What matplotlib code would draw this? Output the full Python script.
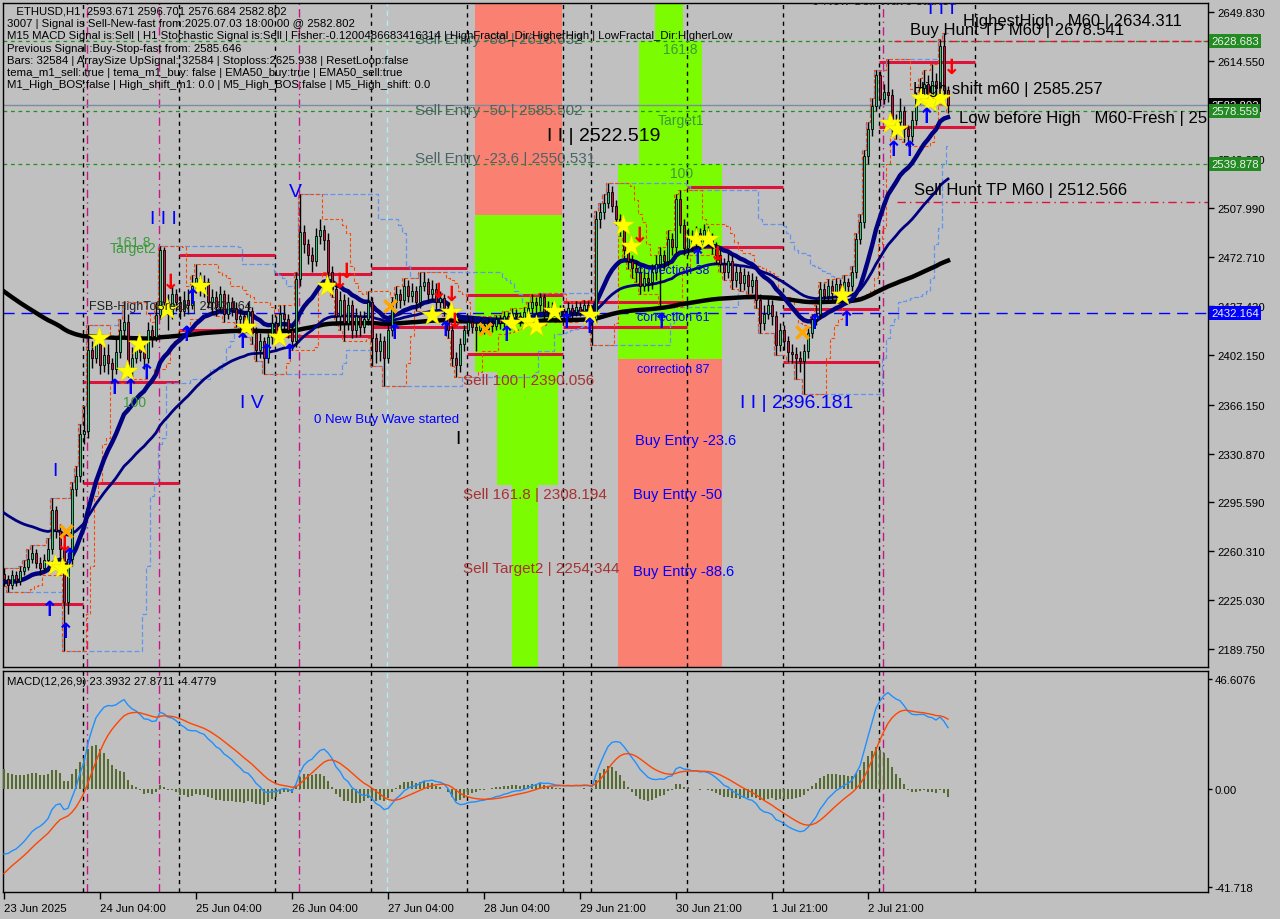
import matplotlib
matplotlib.use('Agg')
import matplotlib.pyplot as plt
import matplotlib.transforms as mtransforms
import numpy as np
import pandas as pd
from matplotlib.patches import Rectangle

plt.rcParams['font.family'] = ['Liberation Sans', 'DejaVu Sans']

# ---------------- data ----------------
closes = [2240, 2236, 2243, 2239, 2246, 2249, 2255, 2259, 2252, 2248,
          2254, 2262, 2290, 2275, 2262, 2224, 2255, 2305, 2315, 2345,
          2347, 2406, 2400, 2410, 2395, 2402, 2396, 2392, 2404, 2420,
          2426, 2392, 2400, 2410, 2404, 2400, 2420, 2415, 2431, 2478,
          2440, 2432, 2446, 2440, 2434, 2442, 2438, 2452, 2458, 2450,
          2455, 2440, 2444, 2437, 2446, 2432, 2440, 2436, 2428, 2430,
          2422, 2434, 2418, 2406, 2412, 2400, 2415, 2425, 2418, 2432,
          2428, 2420, 2412, 2457, 2491, 2482, 2474, 2470, 2488, 2492,
          2485, 2462, 2450, 2430, 2442, 2425, 2438, 2420, 2430, 2422,
          2428, 2440, 2414, 2405, 2412, 2400, 2420, 2440, 2446, 2442,
          2452, 2445, 2448, 2440, 2452, 2455, 2446, 2450, 2440, 2443,
          2436, 2420, 2400, 2395, 2410, 2420, 2426, 2422, 2420, 2424,
          2421, 2425, 2423, 2428, 2425, 2430, 2428, 2432, 2430, 2427,
          2433, 2436, 2440, 2438, 2444, 2433, 2437, 2432, 2430, 2434,
          2432, 2436, 2433, 2437, 2434, 2438, 2435, 2428, 2500, 2505,
          2512, 2520, 2510, 2500, 2495, 2478, 2470, 2465, 2462, 2452,
          2458, 2455, 2462, 2468, 2474, 2470, 2486, 2480, 2515, 2496,
          2479, 2488, 2482, 2490, 2484, 2492, 2486, 2480, 2474, 2468,
          2462, 2470, 2456, 2462, 2454, 2460, 2452, 2456, 2442, 2425,
          2432, 2438, 2430, 2409, 2420, 2412, 2404, 2403, 2400, 2398,
          2405, 2418, 2428, 2432, 2450, 2445, 2452, 2447, 2453, 2449,
          2455, 2452, 2462, 2486, 2498, 2546, 2565, 2582, 2604, 2587,
          2592, 2590, 2565, 2570, 2578, 2565, 2560, 2572, 2587, 2595,
          2598, 2590, 2600, 2595, 2625, 2593.671, 2582.802]
highs = [2248, 2243, 2247, 2246, 2250, 2254, 2262, 2265, 2262, 2256,
         2258, 2270, 2299, 2293, 2280, 2266, 2260, 2310, 2322, 2352,
         2365, 2424, 2412, 2416, 2414, 2408, 2410, 2400, 2416, 2428,
         2440, 2432, 2408, 2416, 2414, 2410, 2426, 2424, 2440, 2481,
         2480, 2446, 2452, 2450, 2445, 2448, 2450, 2460, 2468, 2462,
         2460, 2458, 2450, 2448, 2452, 2449, 2446, 2444, 2440, 2436,
         2434, 2440, 2437, 2422, 2418, 2415, 2420, 2432, 2430, 2438,
         2438, 2432, 2424, 2462, 2518, 2496, 2486, 2480, 2494, 2500,
         2496, 2490, 2466, 2454, 2448, 2446, 2444, 2442, 2436, 2434,
         2434, 2448, 2444, 2418, 2418, 2416, 2424, 2444, 2452, 2450,
         2458, 2456, 2454, 2452, 2462, 2462, 2458, 2456, 2454, 2448,
         2446, 2440, 2424, 2404, 2414, 2424, 2430, 2430, 2426, 2428,
         2427, 2429, 2428, 2431, 2431, 2434, 2433, 2436, 2435, 2433,
         2437, 2440, 2446, 2444, 2447, 2446, 2441, 2440, 2436, 2438,
         2437, 2440, 2439, 2441, 2440, 2442, 2441, 2438, 2506, 2512,
         2518, 2526, 2524, 2514, 2504, 2498, 2482, 2474, 2470, 2466,
         2464, 2462, 2468, 2474, 2480, 2478, 2492, 2490, 2518, 2521,
         2500, 2494, 2492, 2495, 2494, 2497, 2495, 2490, 2484, 2478,
         2472, 2476, 2474, 2467, 2466, 2465, 2463, 2461, 2459, 2446,
         2438, 2444, 2442, 2434, 2425, 2424, 2416, 2410, 2408, 2405,
         2410, 2422, 2432, 2438, 2455, 2454, 2457, 2456, 2458, 2457,
         2460, 2458, 2466, 2490, 2504, 2550, 2570, 2588, 2608, 2607,
         2598, 2616, 2594, 2576, 2588, 2582, 2568, 2578, 2592, 2602,
         2608, 2604, 2612, 2606, 2630, 2634.311, 2596.701]
lows = [2235, 2231, 2233, 2235, 2236, 2243, 2247, 2252, 2248, 2243,
        2245, 2251, 2258, 2270, 2255, 2188, 2215, 2250, 2300, 2310,
        2338, 2342, 2393, 2396, 2388, 2390, 2388, 2382, 2388, 2400,
        2415, 2386, 2385, 2396, 2398, 2392, 2396, 2408, 2412, 2428,
        2436, 2420, 2428, 2434, 2428, 2430, 2432, 2435, 2448, 2445,
        2444, 2436, 2432, 2430, 2433, 2426, 2428, 2430, 2422, 2418,
        2415, 2418, 2410, 2398, 2400, 2388, 2396, 2410, 2412, 2414,
        2420, 2414, 2406, 2408, 2452, 2476, 2468, 2462, 2466, 2482,
        2478, 2456, 2444, 2424, 2420, 2412, 2420, 2414, 2415, 2416,
        2418, 2424, 2394, 2396, 2398, 2380, 2396, 2416, 2436, 2436,
        2438, 2440, 2440, 2434, 2436, 2448, 2440, 2442, 2435, 2436,
        2430, 2414, 2394, 2386, 2390, 2405, 2416, 2418, 2405, 2417,
        2417, 2418, 2419, 2420, 2421, 2422, 2424, 2425, 2426, 2423,
        2424, 2430, 2432, 2432, 2434, 2428, 2429, 2427, 2426, 2427,
        2428, 2429, 2429, 2430, 2430, 2431, 2430, 2409, 2425, 2494,
        2500, 2508, 2505, 2496, 2488, 2472, 2464, 2458, 2455, 2446,
        2448, 2448, 2450, 2456, 2437, 2464, 2466, 2474, 2476, 2490,
        2474, 2474, 2477, 2478, 2479, 2480, 2481, 2475, 2468, 2462,
        2456, 2458, 2450, 2451, 2448, 2449, 2446, 2447, 2436, 2418,
        2420, 2428, 2424, 2402, 2405, 2406, 2397, 2396, 2385, 2390,
        2374, 2400, 2414, 2424, 2428, 2440, 2441, 2442, 2443, 2444,
        2445, 2446, 2448, 2458, 2482, 2494, 2540, 2560, 2578, 2582,
        2583, 2585, 2560, 2558, 2566, 2556, 2553, 2556, 2568, 2583,
        2590, 2585, 2586, 2588, 2590, 2588, 2576.684]
first_open = 2244.0
opens = [first_open] + closes[:-1]

time_ticks = [0, 24, 48, 72, 96, 120, 144, 168, 192, 216]
time_labels = ['23 Jun 2025', '24 Jun 04:00', '25 Jun 04:00', '26 Jun 04:00',
               '27 Jun 04:00', '28 Jun 04:00', '29 Jun 21:00', '30 Jun 21:00',
               '1 Jul 21:00', '2 Jul 21:00']

price_ticks = [2649.830, 2614.550, 2543.270, 2507.990, 2472.710,
               2437.430, 2402.150, 2366.150, 2330.870, 2295.590, 2260.310,
               2225.030, 2189.750]
macd_ticks = [46.6076, 0.0, -41.718]
macd_tick_labels = ['46.6076', '0.00', '-41.718']
macd_title = 'MACD(12,26,9) 23.3932 27.8711 -4.4779'

# period separators (bar positions)
sep_black = [19.75, 43.75, 67.75, 91.75, 115.75, 139.75, 146.75, 170.75, 194.75, 218.75, 242.75]
sep_magenta = [20.75, 38.75, 73.75, 219.75]
sep_cyan = [95.75]

# red level segments: price, start bar, end bar
seg_price = [2222.2, 2309.6, 2382.6, 2474.3, 2420.1, 2460.6, 2415.8, 2464.9, 2422.3,
             2445.4, 2402.8, 2440.4, 2422.3, 2523.4, 2480.1, 2435.3, 2397.0, 2613.7, 2566.8]
seg_start = [-0.25, 19.75, 19.75, 43.75, 43.75, 67.75, 67.75, 91.75, 91.75,
             115.75, 115.75, 139.75, 139.75, 170.75, 170.75, 194.75, 194.75, 218.75, 218.75]
seg_end = [19.75, 43.75, 43.75, 67.75, 67.75, 91.75, 91.75, 115.75, 115.75,
           139.75, 139.75, 170.75, 170.75, 194.75, 194.75, 218.75, 218.75, 242.75, 242.75]

# zones: start bar, end bar, low price, high price, kind
zone_start = [117.75, 117.75, 123.25, 127.0, 162.75, 158.75, 153.5, 153.5]
zone_end = [139.5, 139.5, 138.5, 133.5, 169.75, 174.5, 179.5, 179.5]
zone_low = [2503.2, 2390.056, 2308.194, 2150.0, 2628.683, 2539.878, 2399.2, 2150.0]
zone_high = [2700.0, 2503.2, 2390.056, 2308.194, 2700.0, 2628.683, 2539.878, 2399.2]
zone_kind = ['sell', 'buy', 'buy', 'buy', 'buy', 'buy', 'buy', 'sell']

green_levels = [2628.683, 2578.559, 2539.878]
blue_level = 2432.164
bid_price = 2582.802
buy_hunt_tp = 2628.683
sell_hunt_tp = 2512.566

star_bar = [12.75, 14.5, 23.75, 30.75, 33.75, 40.75, 49, 60.5, 68.75, 80.75, 107, 111.75,
            126.75, 131, 133, 137.5, 146.5, 154.75, 156.75, 173, 176, 209.5, 221.5,
            223.25, 229.25, 231.5, 234]
star_price = [2250.4, 2248.2, 2414.3, 2390.5, 2410.0, 2435.3, 2451.9, 2422.3, 2415.1, 2451.9,
              2431.0, 2433.1, 2425.2, 2426.6, 2423.0, 2433.9, 2431.0, 2496.0, 2480.8, 2485.9,
              2485.9, 2445.4, 2569.7, 2565.3, 2587.7, 2584.8, 2587.7]
cross_bar = [15.5, 96.5, 120.25, 199.5]
cross_price = [2274.9, 2437.5, 2420.9, 2418.7]
up_bar = [11.5, 15.5, 16.5, 27.75, 31.75, 35.75, 45.75, 47.25, 59.75, 65.75, 71.5, 97.75,
          110.5, 125.75, 140.75, 146.5, 164.5, 173.5, 202.75, 210.75, 222.5, 226.5, 230.75]
up_price = [2218.6, 2202.7, 2256.9, 2379.0, 2379.0, 2389.8, 2417.3, 2444.0, 2412.2, 2404.3,
            2404.3, 2418.7, 2420.9, 2417.3, 2426.6, 2423.0, 2426.6, 2472.9, 2425.9, 2428.1,
            2550.9, 2550.9, 2574.7]
down_bar = [15.25, 41.75, 84, 85.75, 108.75, 112, 112.75, 159, 178.5, 237]
down_price = [2265.6, 2454.8, 2455.5, 2462.8, 2448.3, 2446.1, 2426.6, 2488.8, 2475.0, 2610.1]

info_lines = [
    '   ETHUSD,H1  2593.671 2596.701 2576.684 2582.802',
    '3007 | Signal is Sell-New-fast from:2025.07.03 18:00:00 @ 2582.802',
    'M15 MACD Signal is:Sell | H1 Stochastic Signal is:Sell | Fisher:-0.1200486683416314 | HighFractal_Dir:HigherHigh | LowFractal_Dir:HigherLow',
    'Previous Signal :Buy-Stop-fast from: 2585.646',
    'Bars: 32584 | ArraySize UpSignal: 32584 | Stoploss:2625.938 | ResetLoop:false',
    'tema_m1_sell: true | tema_m1_buy: false | EMA50_buy:true | EMA50_sell:true',
    'M1_High_BOS:false | High_shift_m1: 0.0 | M5_High_BOS:false | M5_High_shift: 0.0',
]

# ---------------- figure ----------------
W, H = 1280, 920
BG = '#c0c0c0'
fig = plt.figure(figsize=(12.8, 9.2), dpi=100, facecolor=BG)


def fx(px):
    return px / W


def fy(py):
    return 1 - py / H


L, R = 3, 1208
ax = fig.add_axes([fx(L), fy(668), fx(R) - fx(L), fy(4) - fy(668)])
axm = fig.add_axes([fx(L), fy(893), fx(R) - fx(L), fy(672) - fy(893)])
xmax = (R - L) / 4 - 0.25
for a in (ax, axm):
    a.set_facecolor(BG)
    a.set_xlim(-0.25, xmax)
    for s in a.spines.values():
        s.set_color('black')
        s.set_linewidth(1)
ax.set_ylim(2176.7, 2656.3)
axm.set_ylim(-43.8, 50.0)

n = len(closes)
x = np.arange(n)
c = np.array(closes, float)
o = np.array(opens, float)
hi = np.array(highs, float)
lo = np.array(lows, float)

# zones
for s_, e_, l_, h_, k_ in zip(zone_start, zone_end, zone_low, zone_high, zone_kind):
    ax.add_patch(Rectangle((s_, l_), e_ - s_, h_ - l_,
                           facecolor='#fa8072' if k_ == 'sell' else '#7cfc00',
                           edgecolor='none', zorder=0.5))

# separators
for a in (ax, axm):
    for b in sep_black:
        a.axvline(b, color='black', lw=1, ls=(0, (3, 3)), zorder=1)
    for b in sep_magenta:
        a.axvline(b, color='#c71585', lw=1, ls=(0, (6, 3, 1, 3)), zorder=1)
    for b in sep_cyan:
        a.axvline(b, color='#afeeee', lw=1, ls=(0, (4, 3)), zorder=1)

# horizontal levels
for lv in green_levels:
    ax.axhline(lv, color='#1f8f1f', lw=0.9, ls=(0, (3, 3)), zorder=1.2)
ax.axhline(bid_price, color='#7a8ea0', lw=1, zorder=1.2)
ax.axhline(blue_level, color='#0000ff', lw=1, ls=(0, (8, 5)), zorder=1.2)
ax.plot([222.5, xmax], [buy_hunt_tp, buy_hunt_tp], color='#dc143c', lw=1,
        ls=(0, (5, 3)), zorder=1.3)
ax.plot([223.25, xmax], [sell_hunt_tp, sell_hunt_tp], color='#dc143c', lw=1,
        ls=(0, (6, 3, 1, 3)), zorder=1.3)
for p_, s_, e_ in zip(seg_price, seg_start, seg_end):
    ax.plot([s_, e_], [p_, p_], color='#dc143c', lw=2.2, zorder=2, solid_capstyle='butt')

# channel lines
hs = pd.Series(hi)
ls_ = pd.Series(lo)
up20 = hs.rolling(20, min_periods=1).max()
dn20 = ls_.rolling(20, min_periods=1).min()
up6 = hs.rolling(6, min_periods=1).max()
dn6 = ls_.rolling(6, min_periods=1).min()
ax.step(x, up20, where='mid', color='#6495ed', lw=0.9, ls=(0, (4, 2)), zorder=2)
ax.step(x, dn20, where='mid', color='#6495ed', lw=0.9, ls=(0, (4, 2)), zorder=2)
ax.step(x, up6, where='mid', color='#ff4500', lw=0.8, ls=(0, (3, 2)), zorder=2)
ax.step(x, dn6, where='mid', color='#ff4500', lw=0.8, ls=(0, (3, 2)), zorder=2)


def ema(values, span, seed):
    a = 2.0 / (span + 1)
    out, e = [], seed
    for v in values:
        e = e + a * (v - e)
        out.append(e)
    return np.array(out)


ma_fast = ema(c, 20, 2238)
ma_mid = ema(c, 50, 2290)
ma_slow = ema(c, 200, 2450)
ax.plot(x, ma_slow, color='black', lw=3.2, zorder=3)
ax.plot(x, ma_mid, color='#000080', lw=2, zorder=3)
ax.plot(x, ma_fast, color='#000080', lw=3.2, zorder=3)

# candles
up = c >= o
ax.vlines(x, lo, hi, color='black', lw=1, zorder=4)
body_lo = np.minimum(o, c)
body_h = np.maximum(np.abs(c - o), 0.6)
ax.bar(x, body_h, bottom=body_lo, width=0.72,
       color=np.where(up, '#30c878', '#c0143c'), edgecolor='black', linewidth=0.6, zorder=5)

# markers
ax.scatter(star_bar, star_price, marker='*', s=280, color='#ffff00', edgecolor='#e0d000',
           linewidths=0.3, zorder=6)
ax.scatter(cross_bar, cross_price, marker='x', s=80, color='#ffa500', linewidths=2.5, zorder=6)
for b, p in zip(up_bar, up_price):
    ax.text(b, p, '↑', color='#0000ff', fontsize=15, fontweight='bold', ha='center',
            va='center', family='DejaVu Sans', zorder=7)
for b, p in zip(down_bar, down_price):
    ax.text(b, p, '↓', color='#ff0000', fontsize=15, fontweight='bold', ha='center',
            va='center', family='DejaVu Sans', zorder=7)


# labels on chart
def lab(b, p, s, color, fs, clip=False, weight='normal'):
    ax.text(b, p, s, color=color, fontsize=fs, ha='left', va='center', zorder=8,
            clip_on=clip, fontweight=weight)


SLATE = '#4a6464'
GR = '#3a9a3a'
SR = '#a83232'
BL = '#0000ff'
lab(102.75, 2630.3, 'Sell Entry -88 | 2616.632', SLATE, 11)
lab(102.75, 2579.0, 'Sell Entry -50 | 2585.502', SLATE, 11)
lab(102.75, 2544.4, 'Sell Entry -23.6 | 2550.531', SLATE, 11)
lab(135.75, 2560.3, 'I I | 2522.519', 'black', 14)
lab(164.75, 2623.1, '161.8', GR, 10)
lab(163.5, 2571.8, 'Target1', GR, 10)
lab(166.5, 2533.5, '100', GR, 10)
lab(28.0, 2483.7, '161.8', GR, 10)
lab(26.5, 2479.4, 'Target2', GR, 10)
lab(29.75, 2368.1, '100', GR, 10)
lab(21.25, 2437.8, 'FSB-HighToBreak | 2432.164', '#202020', 9)
lab(36.5, 2500.3, 'I I I', BL, 14)
lab(71.25, 2520.5, 'V', BL, 14)
lab(59.0, 2368.1, 'I V', BL, 14)
lab(12.0, 2318.3, 'I', BL, 14)
lab(112.75, 2341.4, 'I', 'black', 14)
lab(77.5, 2355.8, '0 New Buy Wave started', BL, 9.5)
lab(114.75, 2384.0, 'Sell 100 | 2390.056', SR, 11)
lab(114.75, 2301.7, 'Sell 161.8 | 2308.194', SR, 11)
lab(114.75, 2248.2, 'Sell Target2 | 2254.344', SR, 11)
lab(158.25, 2463.5, 'correction 38', BL, 9)
lab(158.25, 2429.5, 'correction 61', BL, 9)
lab(158.25, 2392.0, 'correction 87', BL, 9)
lab(157.75, 2340.7, 'Buy Entry -23.6', BL, 10.5)
lab(157.25, 2301.7, 'Buy Entry -50', BL, 10.5)
lab(157.25, 2246.1, 'Buy Entry -88.6', BL, 10.5)
lab(184.0, 2368.1, 'I I | 2396.181', BL, 14)
lab(202.0, 2657.5, '0 New Sell Wave started', '#202020', 9.5, clip=True)
lab(231.0, 2652.0, 'I I I', BL, 14, clip=True)
lab(239.75, 2643.3, 'HighestHigh   M60 | 2634.311', 'black', 12)
lab(226.5, 2636.8, 'Buy Hunt TP M60 | 2678.541', 'black', 12)
lab(227.25, 2594.2, 'High shift m60 | 2585.257', 'black', 12)
lab(238.75, 2573.3, 'Low before High   M60-Fresh | 2566.5', 'black', 12, clip=True)
lab(227.5, 2521.3, 'Sell Hunt TP M60 | 2512.566', 'black', 12)

# info text
for k, line in enumerate(info_lines):
    fig.text(fx(7), fy(12 + 12.2 * k), line, fontsize=8.2, color='black',
             ha='left', va='center', zorder=10)

# right price axis
ax.yaxis.tick_right()
ax.set_yticks(price_ticks)
ax.set_yticklabels(['%.3f' % t for t in price_ticks])
ax.tick_params(axis='y', direction='out', length=4, width=1, colors='black',
               labelsize=8.2, pad=3)
ax.tick_params(axis='x', length=0, labelbottom=False)
trans = mtransforms.blended_transform_factory(ax.transAxes, ax.transData)
tags = [(2628.683, '#228b22'), (2582.802, '#000000'), (2578.559, '#228b22'),
        (2539.878, '#228b22'), (2432.164, '#0000ff')]
for p, col in tags:
    ax.text(1.0 + 3 / (R - L), p, '%.3f' % p, transform=trans, ha='left', va='center',
            fontsize=8.2, color='#f0f0f0', zorder=12, clip_on=False,
            bbox=dict(boxstyle='square,pad=0.18', facecolor=col, edgecolor='none'))

# ---------------- MACD ----------------
e12 = ema(c, 12, 2262)
e26 = ema(c, 26, 2290)
macd = e12 - e26
sig = ema(macd, 9, -38)
hist = macd - sig
axm.bar(x, hist, width=0.72, color='#556b2f', zorder=3)
axm.plot(x, macd, color='#1e90ff', lw=1, zorder=4)
axm.plot(x, sig, color='#ff4500', lw=1, zorder=4)
axm.text(0.0035, 0.955, macd_title, transform=axm.transAxes, fontsize=8.2,
         ha='left', va='center')
axm.yaxis.tick_right()
axm.set_yticks(macd_ticks)
axm.set_yticklabels(macd_tick_labels)
axm.tick_params(axis='y', direction='out', length=3, width=1, labelsize=8.2, pad=2)
axm.set_xticks(time_ticks)
axm.set_xticklabels(time_labels)
axm.tick_params(axis='x', direction='out', length=5, width=1, labelsize=8.2, pad=3)
for t in axm.get_xticklabels():
    t.set_ha('left')

fig.savefig('out.png', dpi=100, facecolor=BG)
